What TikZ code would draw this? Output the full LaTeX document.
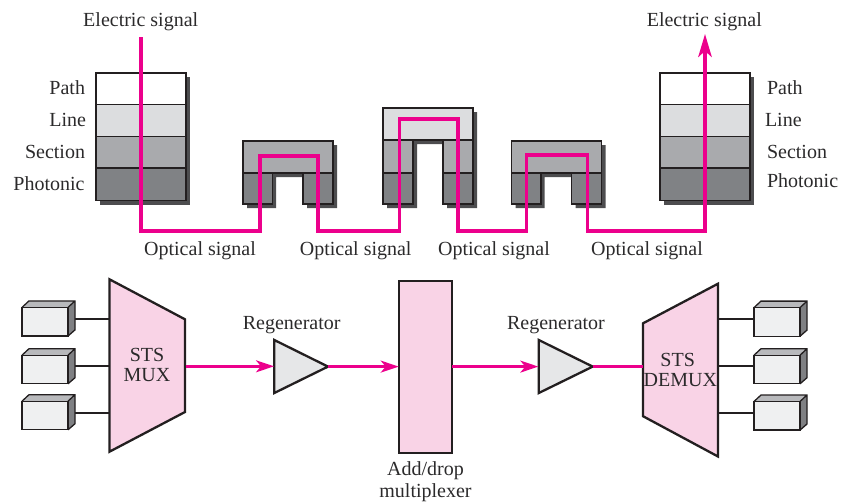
\documentclass[tikz,border=0pt]{standalone}
\usepackage{fontspec}
\setmainfont{Liberation Serif}
\usetikzlibrary{arrows.meta}
\definecolor{ink}{HTML}{231F20}
\definecolor{txt}{HTML}{2B2A2B}
\definecolor{sig}{HTML}{EC008C}
\definecolor{pinkfill}{HTML}{F9D3E6}
\definecolor{lline}{HTML}{DCDDDF}
\definecolor{lsec}{HTML}{A9AAAD}
\definecolor{lpho}{HTML}{808285}
\definecolor{shade}{HTML}{4D4D4F}
\definecolor{boxfront}{HTML}{EFF0F1}
\definecolor{boxtop}{HTML}{B8B9BC}
\definecolor{boxside}{HTML}{7F8083}
\definecolor{trifill}{HTML}{E6E7E8}
\tikzset{
  lab/.style={inner sep=0pt,outer sep=0pt,text=txt,font=\fontsize{20}{22}\selectfont,anchor=base},
  labr/.style={lab,anchor=base east},
  labl/.style={lab,anchor=base west},
  layer/.style={draw=ink,line width=1.3pt,line join=miter},
  shadowfill/.style={fill=shade},
  sigline/.style={draw=sig,line width=3.4pt,line join=miter},
  sigthin/.style={draw=sig,line width=2.4pt},
  sighead/.style={-{Stealth[length=18pt,width=12pt,inset=5pt,color=sig]}},
  heavy/.style={draw=ink,line width=2.3pt,line join=miter},
  tick/.style={draw=ink,line width=2pt},
  front/.style={draw=ink,line width=1.3pt,fill=boxfront,minimum width=46pt,minimum height=28.6pt,inner sep=0pt,outer sep=0pt,anchor=north west},
  stackblock/.pic={
    \fill[shadowfill] (4,4) rectangle (94,131.5);
    \path[layer,fill=white] (0,0) rectangle (90,31.5);
    \path[layer,fill=lline] (0,31.5) rectangle (90,63.5);
    \path[layer,fill=lsec] (0,63.5) rectangle (90,95);
    \path[layer,fill=lpho] (0,95) rectangle (90,127.5);
  },
  ublock/.pic={
    \fill[shadowfill] (4,4) -- (94,4) -- (94,67) -- (64,67) -- (64,36) -- (33,36) -- (33,67) -- (4,67) -- cycle;
    \path[layer,fill=lsec] (0,0) rectangle (90,32);
    \path[layer,fill=lpho] (0,32) rectangle (29.5,63);
    \path[layer,fill=lpho] (60,32) rectangle (90,63);
  },
  tallblock/.pic={
    \fill[shadowfill] (4,4) -- (94,4) -- (94,100) -- (64,100) -- (64,36) -- (34,36) -- (34,100) -- (4,100) -- cycle;
    \path[layer,fill=lline] (0,0) rectangle (90,32);
    \path[layer,fill=lsec] (0,32) rectangle (30,65);
    \path[layer,fill=lpho] (0,65) rectangle (30,96);
    \path[layer,fill=lsec] (60,32) rectangle (90,65);
    \path[layer,fill=lpho] (60,65) rectangle (90,96);
  },
  tribu/.pic={
    \fill[boxtop] (0,0) -- (46,0) -- (53,-6.5) -- (7,-6.5) -- cycle;
    \fill[boxside] (46,0) -- (53,-6.5) -- (53,22.5) -- (46,28.6) -- cycle;
    \draw[ink,line width=1.3pt,line join=miter] (0,0) -- (7,-6.5) -- (53,-6.5) -- (53,22.5) -- (46,28.6) (46,0) -- (53,-6.5);
  },
}
\begin{document}
\begin{tikzpicture}[x=1pt,y=-1pt]
\useasboundingbox (0,0) rectangle (842,501);

% protocol stacks
\pic at (96,73) {stackblock};
\pic at (243,141) {ublock};
\pic at (383,108) {tallblock};
\pic at (511.5,141) {ublock};
\pic at (660,73) {stackblock};

% signal path
\coordinate (s0) at (141,37);
\coordinate (s1) at (141,231);
\coordinate (s2) at (260,231);
\coordinate (s3) at (260,156);
\coordinate (s4) at (318,156);
\coordinate (s5) at (318,231);
\coordinate (s6) at (399.3,231);
\coordinate (s7) at (399.3,119);
\coordinate (s8) at (458,119);
\coordinate (s9) at (458,231);
\coordinate (s10) at (526.7,231);
\coordinate (s11) at (526.7,155);
\coordinate (s12) at (587.3,155);
\coordinate (s13) at (587.3,231);
\coordinate (s14) at (705,231);
\coordinate (s15) at (705,34);
\path[sigline,-{Stealth[length=23pt,width=13.5pt,inset=6pt,color=sig]}] (s0) -- (s1) -- (s2) -- (s3) -- (s4) -- (s5) -- (s6) -- (s7) -- (s8) -- (s9) -- (s10) -- (s11) -- (s12) -- (s13) -- (s14) -- (s15);

% top labels
\node[lab] (e1) at (140.7,26) {Electric signal};
\node[lab] (e2) at (704.3,26) {Electric signal};
\node[labr] (p1) at (85,94) {Path};
\node[labr] (p2) at (86,126) {Line};
\node[labr] (p3) at (85,158) {Section};
\node[labr] (p4) at (84.5,190.5) {Photonic};
\node[labl] (q1) at (767,94) {Path};
\node[labl] (q2) at (765,126) {Line};
\node[labl] (q3) at (767,158) {Section};
\node[labl] (q4) at (767,187.7) {Photonic};
\node[lab] (o1) at (200,255) {Optical signal};
\node[lab] (o2) at (355.7,255) {Optical signal};
\node[lab] (o3) at (494,255) {Optical signal};
\node[lab] (o4) at (647,255) {Optical signal};

% multiplexers and add/drop
\path[heavy,fill=pinkfill] (109.5,279.3) coordinate (m1) -- (185,319.3) coordinate (m2) -- (185,412) coordinate (m3) -- (109.5,451.7) coordinate (m4) -- cycle;
\path[heavy,fill=pinkfill] (643,323.3) coordinate (d1) -- (718,283.7) coordinate (d2) -- (718,456.5) coordinate (d3) -- (643,416.2) coordinate (d4) -- cycle;
\node[heavy,fill=pinkfill,minimum width=53.5pt,minimum height=172pt,inner sep=0pt,outer sep=0pt,anchor=north west] (adm) at (398.7,280.7) {};

% regenerators
\path[heavy,fill=trifill] (274.3,340) -- (274.3,393) -- (328,366.6) coordinate (r1) -- cycle;
\path[heavy,fill=trifill] (538.8,340) -- (538.8,393) -- (592.7,366.6) coordinate (r2) -- cycle;
\coordinate (r1in) at (274,366.3);
\coordinate (r2in) at (538.3,366.6);
\coordinate (mout) at (185.5,366.3);
\coordinate (din) at (643,366.6);

% signal arrows
\path[sigthin,sighead] (mout) -- (r1in);
\path[sigthin,sighead] (r1) -- (adm.west |- r1);
\path[sigthin,sighead] (adm.east |- r2) -- (r2in);
\path[sigthin] (r2) -- (din);

% tributary boxes, left
\coordinate (a1) at (75,318.7);
\coordinate (a2) at (75,366);
\coordinate (a3) at (75,412.7);
\draw[tick] (a1) -- (a1 -| m1);
\draw[tick] (a2) -- (a2 -| m1);
\draw[tick] (a3) -- (a3 -| m1);
\pic at (22,307.4) {tribu};
\pic at (22,355.2) {tribu};
\pic at (22,401.2) {tribu};
\node[front] (bl1) at (22,307.4) {};
\node[front] (bl2) at (22,355.2) {};
\node[front] (bl3) at (22,401.2) {};

% tributary boxes, right
\coordinate (c1) at (754,318.7);
\coordinate (c2) at (754,366.3);
\coordinate (c3) at (754,412.7);
\draw[tick] (c1 -| d2) -- (c1);
\draw[tick] (c2 -| d2) -- (c2);
\draw[tick] (c3 -| d2) -- (c3);
\pic at (754,307.6) {tribu};
\pic at (754,355.2) {tribu};
\pic at (754,401.5) {tribu};
\node[front] (br1) at (754,307.6) {};
\node[front] (br2) at (754,355.2) {};
\node[front] (br3) at (754,401.5) {};

% bottom labels
\node[lab] (t1) at (147,361) {STS};
\node[lab] (t2) at (147,381) {MUX};
\node[lab] (t3) at (677.7,366) {STS};
\node[lab] (t4) at (680.3,386) {DEMUX};
\node[lab] (g1) at (291.7,329) {Regenerator};
\node[lab] (g2) at (556,329) {Regenerator};
\node[lab] (h1) at (425.5,475) {Add/drop};
\node[lab] (h2) at (425.5,497) {multiplexer};
\end{tikzpicture}
\end{document}
